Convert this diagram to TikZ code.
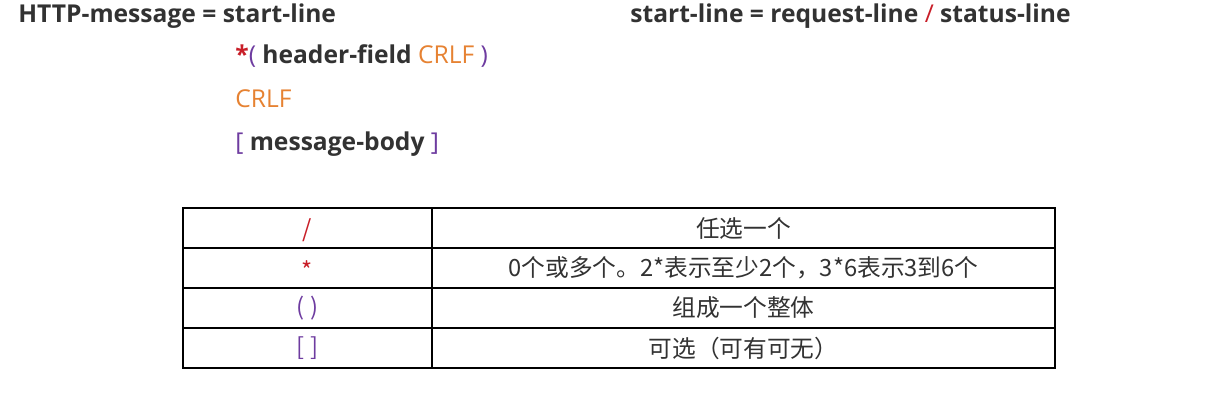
\documentclass[tikz,border=0pt]{standalone}
\usepackage{fontspec}
\setmainfont{Open Sans}
\newfontfamily\cjk{Noto Sans CJK SC}
\usetikzlibrary{positioning}
\definecolor{synred}{RGB}{200,30,40}
\definecolor{synorange}{RGB}{230,130,50}
\definecolor{synpurple}{RGB}{110,60,160}
\definecolor{syntext}{RGB}{50,50,50}
\tikzset{
  rule/.style={anchor=base west, inner sep=0pt, font=\fontsize{14}{16}\selectfont\bfseries, text=syntext},
  cell/.style={inner sep=0pt, font=\fontsize{13.5}{16}\cjk, text=syntext},
}
\begin{document}
\begin{tikzpicture}[x=0.02cm,y=-0.02cm]
\useasboundingbox (0,0) rectangle (1218,414);
% grammar
\node (msg) [rule] at (18,22) {HTTP-message = start-line};
\node (hdr) [rule] at (235,63) {\textcolor{synred}{*}\textcolor{synpurple}{\mdseries(} header-field \textcolor{synorange}{\mdseries CRLF} \textcolor{synpurple}{\mdseries)}};
\node (crlf) [rule] at (235,107) {\textcolor{synorange}{\mdseries CRLF}};
\node (body) [rule] at (235,150) {\textcolor{synpurple}{\mdseries[} message-body \textcolor{synpurple}{\mdseries]}};
\node (start) [rule] at (630,22) {start-line = request-line \textcolor{synred}{\mdseries/} status-line};
% table
\draw[line width=0.8pt] (183,208) rectangle (1055,368);
\foreach \y in {248,288,328} \draw[line width=0.8pt] (183,\y) -- (1055,\y);
\draw[line width=0.8pt] (432,208) -- (432,368);
\node (s1) [cell, text=synred] at (307.5,230) {/};
\node (s2) [cell, text=synred] at (307.5,270) {*};
\node (s3) [cell, text=synpurple] at (307.5,308) {( )};
\node (s4) [cell, text=synpurple] at (307.5,348) {[ ]};
\node (d1) [cell] at (743.5,228) {任选一个};
\node (d2) [cell] at (743.5,268) {0个或多个。2*表示至少2个，3*6表示3到6个};
\node (d3) [cell] at (743.5,308) {组成一个整体};
\node (d4) [cell] at (743.5,348) {可选（可有可无）};
\end{tikzpicture}
\end{document}
